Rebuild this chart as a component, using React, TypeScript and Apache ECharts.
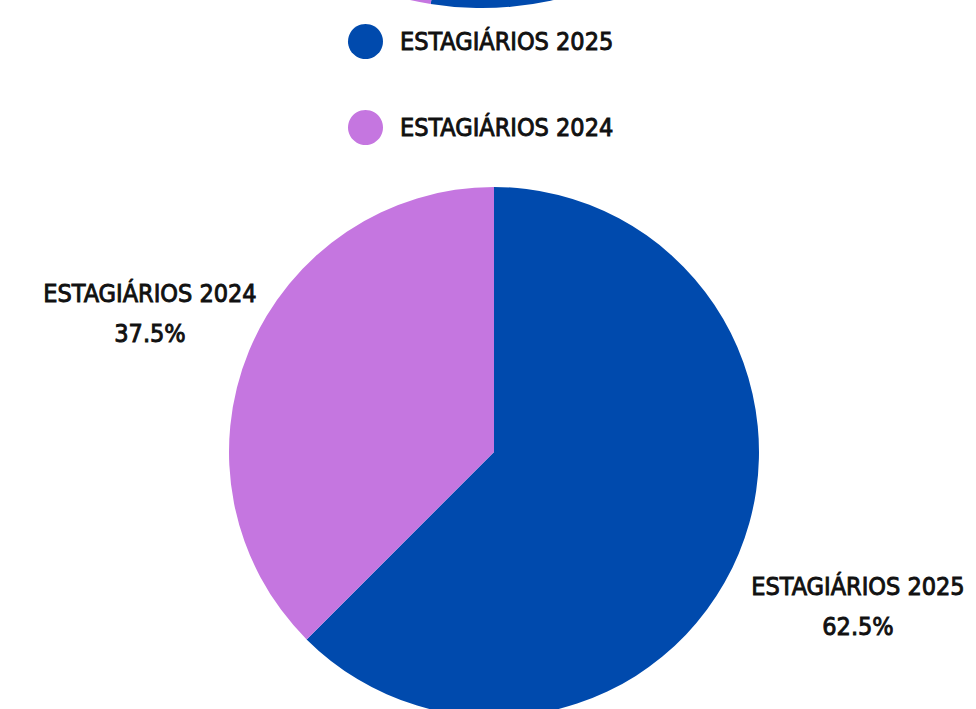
import React, { useEffect, useRef } from "react";
import * as echarts from "echarts";

const categories = ["ESTAGIÁRIOS 2025", "ESTAGIÁRIOS 2024"];
const values = [62.5, 37.5];
const colors = ["#004aad", "#c576e0"];

const FONT = "'DejaVu Sans Condensed', 'Liberation Sans Narrow', sans-serif";

export default function App() {
  const ref = useRef<HTMLDivElement>(null);
  useEffect(() => {
    if (!ref.current) return;
    const chart = echarts.init(ref.current, undefined, { renderer: "svg" });
    const data = categories.map((name, i) => ({
      name,
      value: values[i],
      itemStyle: { color: colors[i] },
    }));
    chart.setOption({
      animation: false,
      backgroundColor: "#ffffff",
      legend: {
        orient: "vertical",
        left: 348,
        top: 24,
        padding: 0,
        icon: "circle",
        itemWidth: 35,
        itemHeight: 35,
        itemGap: 51,
        data: categories,
        textStyle: {
          fontFamily: FONT,
          fontSize: 25,
          fontWeight: "normal",
          color: "#111111",
          textBorderColor: "#111111",
          textBorderWidth: 0.9,
          padding: [0, 0, 0, 12],
        },
      },
      series: [
        {
          type: "pie",
          silent: true,
          center: [482, -320],
          radius: 328,
          startAngle: 126,
          clockwise: true,
          label: { show: false },
          labelLine: { show: false },
          data: data.map((d) => ({ ...d })),
        },
        {
          type: "pie",
          center: [494, 452],
          radius: 265,
          startAngle: 90,
          clockwise: true,
          label: {
            show: true,
            position: "outside",
            formatter: (p: any) => `${p.name}\n${p.value}%`,
            fontFamily: FONT,
            fontSize: 25,
            fontWeight: "normal",
            color: "#111111",
            textBorderColor: "#111111",
            textBorderWidth: 0.9,
            lineHeight: 40,
            align: "center",
            overflow: "none",
            width: 400,
          },
          labelLine: { show: false },
          labelLayout: (p: any) =>
            p.dataIndex === 0
              ? { x: 858, y: 606, align: "center", verticalAlign: "middle" }
              : { x: 150, y: 313, align: "center", verticalAlign: "middle" },
          data,
        },
      ],
    });
    return () => chart.dispose();
  }, []);
  return (
    <div
      ref={ref}
      style={{ position: "fixed", left: 0, top: 0, width: 976, height: 709 }}
    />
  );
}
